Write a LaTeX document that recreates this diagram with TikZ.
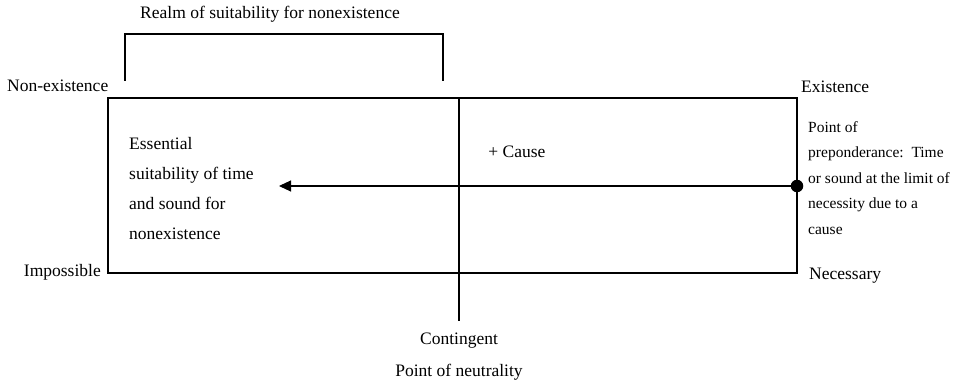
\documentclass[tikz,border=0pt]{standalone}
\usepackage{fontspec}
\setmainfont{Liberation Serif}
\usetikzlibrary{arrows.meta}
\begin{document}
\begin{tikzpicture}[x=1pt,y=-1pt,
  lbl/.style={inner sep=0pt, font=\fontsize{17.5}{30}\selectfont},
  sml/.style={inner sep=0pt, font=\fontsize{15.5}{25.5}\selectfont, align=left},
  line/.style={line width=1.4pt},
  thin/.style={line width=1.1pt}]
\useasboundingbox (0,0) rectangle (956,385);
% main box
\coordinate (tl) at (108,98);
\coordinate (br) at (797,273);
\draw[line] (tl) rectangle (br);
% neutrality line
\coordinate (ntop) at (459,98);
\coordinate (nbot) at (459,321);
\draw[thin] (ntop) -- (nbot);
% bracket
\coordinate (b1) at (125,81);
\coordinate (b2) at (125,34);
\coordinate (b3) at (443,34);
\coordinate (b4) at (443,81);
\draw[thin] (b1) -- (b2) -- (b3) -- (b4);
\node[lbl] (realm) at (270,14) {Realm of suitability for nonexistence};
% corner labels
\node[lbl,anchor=west] (nonex) at (7,86) {Non-existence};
\node[lbl,anchor=west] (ex) at (801,87) {Existence};
\node[lbl,anchor=east] (imp) at (101,272) {Impossible};
\node[lbl,anchor=west] (nec) at (809,276) {Necessary};
% dot and arrow
\node[circle,fill=black,inner sep=0pt,minimum size=12.5pt] (dot) at (797,186) {};
\coordinate (tip) at (279,186);
\draw[thin,-{Triangle[length=12pt,width=11pt]}] (dot) -- (tip);
\node[lbl] (cause) at (517,152) {+ Cause};
% left text
\node[lbl,anchor=north west,align=left] (ess) at (129,137.5) {Essential\\suitability of time\\and sound for\\nonexistence};
% right text
\node[sml,anchor=north west] (pp) at (808,121) {Point of\\preponderance:\ \ Time\\or sound at the limit of\\necessity due to a\\cause};
% bottom labels
\node[lbl] (cont) at (459,341) {Contingent};
\node[lbl] (neut) at (459,372) {Point of neutrality};
\end{tikzpicture}
\end{document}
